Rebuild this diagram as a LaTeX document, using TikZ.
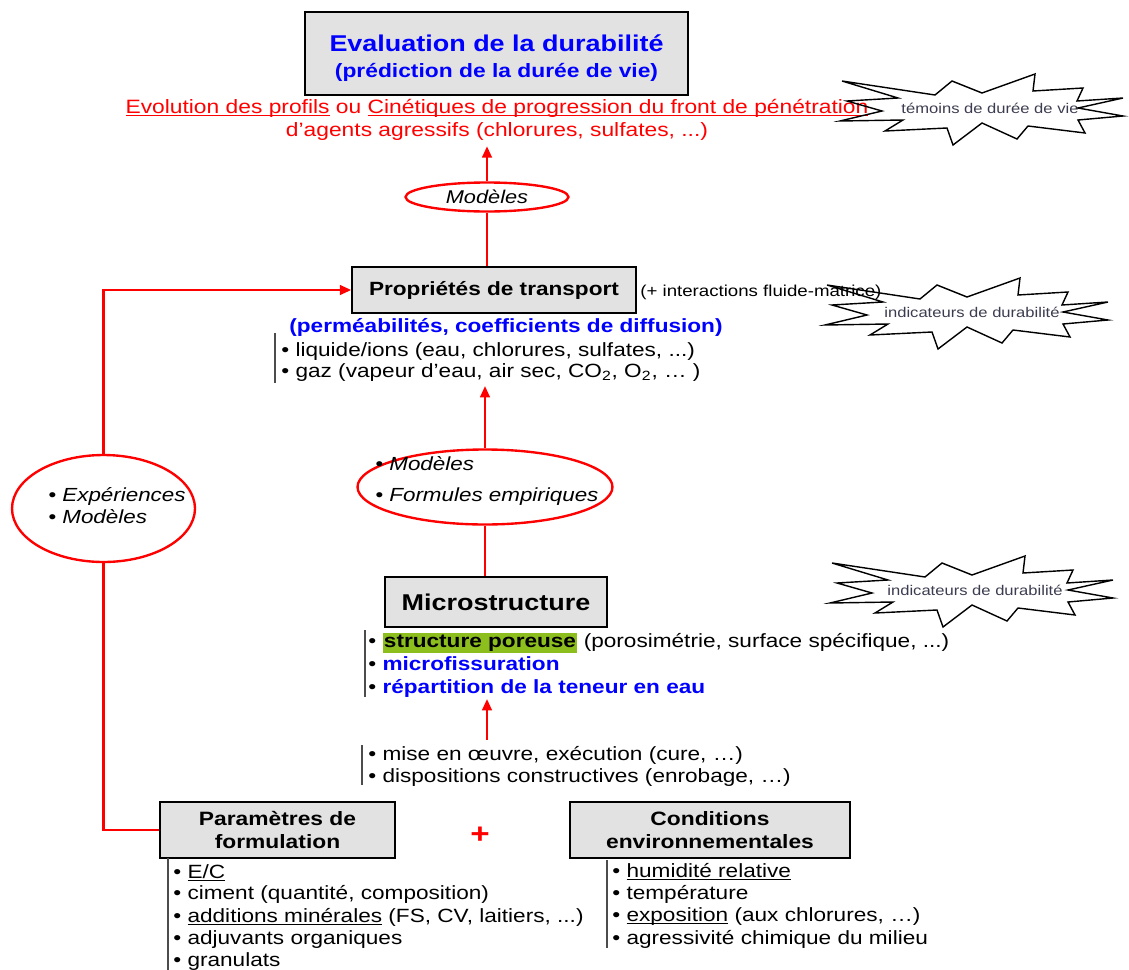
\documentclass[tikz,border=0pt]{standalone}
\usepackage{fontspec}
\setmainfont[FakeStretch=1.18]{Liberation Sans}
\usetikzlibrary{shapes.geometric,arrows.meta,shadows}
\definecolor{boxgray}{RGB}{226,226,226}
\definecolor{hlgreen}{RGB}{140,190,30}
\definecolor{burstink}{RGB}{60,60,80}
\setlength{\fboxsep}{0.8pt}
\newcommand{\undl}[1]{\setbox0\hbox{#1}\rlap{\rule[-1.8pt]{\wd0}{0.6pt}}\box0{}}
\newcommand{\dropline}[1]{\raisebox{-2.5pt}[\height][\depth]{#1}}
\tikzset{
  link/.style={red, line width=1.35pt},
  tip/.style={-{Triangle[length=6.5pt,width=5.5pt]}},
  block/.style={draw=black, line width=0.9pt, fill=boxgray, align=center, inner sep=0pt,
    drop shadow={shadow xshift=0.8pt, shadow yshift=-0.8pt, fill=black!75, opacity=1}},
  oval/.style={ellipse, draw=red, line width=1.35pt, fill=white, inner sep=0pt},
  item/.style={anchor=west, inner sep=0pt, text height=.72em, text depth=0pt, font=\fontsize{10.9}{12}\selectfont},
  bar/.style={draw=black!70, line width=0.9pt},
  burst/.pic={
    \draw[line width=0.8pt] (-143,-27) -- (-50,-13) -- (-33,-27) -- (-3,-15) -- (50,-34) -- (48,-17)
      -- (98,-20) -- (92,-7) -- (138,-10) -- (93,0) -- (138,8) -- (93,12) -- (100,25) -- (43,18)
      -- (32,31) -- (-3,15) -- (-32,37) -- (-38,20) -- (-100,23) -- (-82,12) -- (-145,13)
      -- (-103,3) -- (-138,-7) -- (-87,-10) -- cycle;
  }
}
\begin{document}
\begin{tikzpicture}[x=0.02cm, y=-0.02cm]
\useasboundingbox (0,0) rectangle (1129,970);

% durabilite
\node[block, minimum width=7.66cm, minimum height=1.66cm, text=blue, font=\bfseries\fontsize{13}{16}\selectfont] (eval) at (496.5,53.5)
  {\dropline{Evaluation de la durabilité}\\[-1pt]{\fontsize{11}{13}\selectfont\dropline{(prédiction de la durée de vie)}}};
\node[red, align=center, font=\fontsize{11}{13}\selectfont] (evol) at (497,119.5)
  {\undl{Evolution des profils} ou \undl{Cinétiques de progression du front de pénétration}\\d'agents agressifs (chlorures, sulfates, ...)};

\node[oval, minimum width=3.26cm, minimum height=0.58cm, font=\itshape\fontsize{10.5}{12}\selectfont] (mod1) at (487,197) {Modèles};
\draw[link,tip] (mod1.north) -- (mod1.north |- evol.south);

% transport
\node[block, minimum width=5.68cm, minimum height=0.92cm, font=\bfseries\fontsize{10.9}{14}\selectfont] (prop) at (494,290) {Propriétés de transport};
\draw[link] (mod1.south) -- (mod1.south |- prop.north);
\node[item, font=\fontsize{9}{11}\selectfont] (inter) at (640,290) {(+ interactions fluide-matrice)};
\node[item, text=blue, font=\bfseries\fontsize{10.9}{13}\selectfont] (coef) at (289,326) {(perméabilités, coefficients de diffusion)};
\node[item] (liq) at (281,350) {• liquide/ions (eau, chlorures, sulfates, ...)};
\node[item] (gaz) at (281,371) {• gaz (vapeur d'eau, air sec, CO\textsubscript{2}, O\textsubscript{2}, … )};
\draw[bar] (275,333) -- (275,383);
\coordinate (propfoot) at (275,386);

\node[oval, minimum width=5.1cm, minimum height=1.5cm] (mod2) at (485,487) {};
\node[item, font=\itshape\fontsize{10.8}{13}\selectfont] (mod2a) at (375,464) {• Modèles};
\node[item, font=\itshape\fontsize{10.8}{13}\selectfont] (mod2b) at (375,495) {• Formules empiriques};
\draw[link,tip] (mod2.north) -- (mod2.north |- propfoot);

% microstructure
\node[block, minimum width=4.44cm, minimum height=1cm, font=\bfseries\fontsize{13}{16}\selectfont] (micro) at (496,602) {Microstructure};
\draw[link] (mod2.south) -- (mod2.south |- micro.north);
\node[item] (pore) at (368,641) {• \colorbox{hlgreen}{\bfseries structure poreuse} (porosimétrie, surface spécifique, ...)};
\node[item] (fiss) at (368,664) {• {\color{blue}\bfseries microfissuration}};
\node[item] (repart) at (368,687) {• {\color{blue}\bfseries répartition de la teneur en eau}};
\draw[bar] (365,630) -- (365,697);
\coordinate (microfoot) at (365,699);

\node[item] (mise) at (368,754) {• mise en œuvre, exécution (cure, …)};
\node[item] (dispo) at (368,776) {• dispositions constructives (enrobage, …)};
\draw[bar] (362,745) -- (362,785);
\coordinate (misetop) at (487,740);
\draw[link,tip] (misetop) -- (misetop |- microfoot);

% parametres + conditions
\node[block, minimum width=4.7cm, minimum height=1.12cm, font=\bfseries\fontsize{11}{13}\selectfont] (param) at (277.5,830) {Paramètres de\\formulation};
\node[block, minimum width=5.6cm, minimum height=1.12cm, font=\bfseries\fontsize{11}{13}\selectfont] (cond) at (710,830) {Conditions\\environnementales};
\node[red, font=\bfseries\fontsize{16}{16}\selectfont] (plus) at (480,835) {+};

\node[item] (ec) at (173,872) {• \undl{E/C}};
\node[item] (ciment) at (173,893) {• ciment (quantité, composition)};
\node[item] (addit) at (173,916) {• \undl{additions minérales} (FS, CV, laitiers, ...)};
\node[item] (adjuv) at (173,938) {• adjuvants organiques};
\node[item] (granul) at (173,960) {• granulats};
\draw[bar] (168,858) -- (168,972);

\node[item] (humid) at (612,871) {• \undl{humidité relative}};
\node[item] (temper) at (612,893) {• température};
\node[item] (expo) at (612,915) {• \undl{exposition} (aux chlorures, …)};
\node[item] (agress) at (612,938) {• agressivité chimique du milieu};
\draw[bar] (607,860) -- (607,948);

% boucle experiences
\node[oval, minimum width=3.66cm, minimum height=2.14cm] (exper) at (103.5,508.5) {};
\draw[link] (param.west) -| (exper.south);
\draw[link,tip] (exper.north) |- (prop.west);
\node[item, font=\itshape\fontsize{10.8}{13}\selectfont] (experA) at (48,495) {• Expériences};
\node[item, font=\itshape\fontsize{10.8}{13}\selectfont] (experB) at (48,517) {• Modèles};

% etoiles
\node[text=burstink, font=\fontsize{8}{10}\selectfont] (temoin) at (990,108) {témoins de durée de vie};
\pic at (985,108) {burst};
\node[text=burstink, font=\fontsize{8}{10}\selectfont] (indic1) at (972,312) {indicateurs de durabilité};
\pic at (970,312) {burst};
\node[text=burstink, font=\fontsize{8}{10}\selectfont] (indic2) at (975,590) {indicateurs de durabilité};
\pic at (975,590) {burst};
\end{tikzpicture}
\end{document}
